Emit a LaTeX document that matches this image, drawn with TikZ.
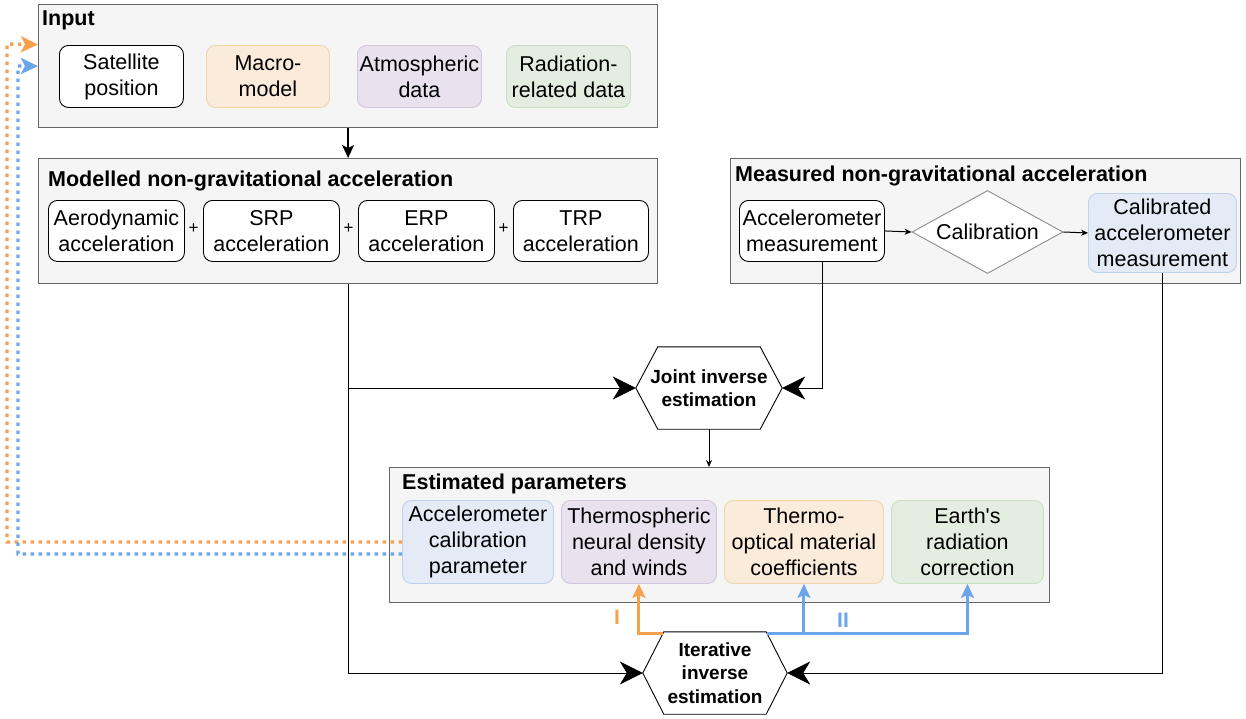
\documentclass[tikz,border=0pt]{standalone}
\usepackage{fontspec}
\setmainfont{Liberation Sans}[Ligatures=TeXOff]
\usetikzlibrary{arrows.meta,calc,shapes.geometric}
\definecolor{grayfill}{HTML}{F5F5F5}
\definecolor{graydraw}{HTML}{666666}
\definecolor{orfill}{HTML}{FAEBDB}
\definecolor{ordraw}{HTML}{EDD7AA}
\definecolor{pufill}{HTML}{E9E2EE}
\definecolor{pudraw}{HTML}{D3C3DD}
\definecolor{grfill}{HTML}{E3EEE0}
\definecolor{grdraw}{HTML}{C7DFC0}
\definecolor{blfill}{HTML}{E4EBF6}
\definecolor{bldraw}{HTML}{BDD0EC}
\definecolor{diadraw}{HTML}{8C8C8C}
\definecolor{myorange}{HTML}{F7A14C}
\definecolor{myblue}{HTML}{6AA4E9}
\begin{document}
\begin{tikzpicture}[x=1pt,y=-1pt,
  container/.style={draw=graydraw, fill=grayfill, line width=1.2pt, anchor=north west, inner sep=0pt},
  title/.style={anchor=west, font=\bfseries\fontsize{21.5}{26}\selectfont, inner sep=0pt},
  item/.style={draw, rounded corners=9pt, anchor=north west, align=center, inner sep=0pt, font=\fontsize{21.5}{26}\selectfont, line width=0.9pt, fill=white},
  orbox/.style={item, fill=orfill, draw=ordraw},
  pubox/.style={item, fill=pufill, draw=pudraw},
  grbox/.style={item, fill=grfill, draw=grdraw},
  blbox/.style={item, fill=blfill, draw=bldraw},
  hexnode/.style={inner sep=0pt, align=center, font=\bfseries\fontsize{19}{23.5}\selectfont},
  hexline/.style={draw=black, line width=0.9pt, fill=none},
  plus/.style={font=\fontsize{17}{17}\selectfont, inner sep=0pt},
  conn/.style={draw=black, line width=1pt},
  bigtip/.style={conn, -{Stealth[length=23pt,width=23pt,inset=7pt]}},
  smalltip/.style={conn, -{Stealth[length=7pt,width=6pt]}},
  midtip/.style={conn, line width=1.3pt, -{Stealth[length=13pt,width=12pt,inset=3pt]}},
  orline/.style={draw=myorange, line width=3pt, -{Stealth[length=14pt,width=13pt,inset=3pt]}},
  blline/.style={draw=myblue, line width=3pt},
  bltip/.style={blline, -{Stealth[length=14pt,width=13pt,inset=3pt]}},
  ordot/.style={draw=myorange, line width=3.4pt, dash pattern=on 3.4pt off 4.6pt, -{Stealth[length=17pt,width=16pt,inset=4pt]}},
  bldot/.style={draw=myblue, line width=3.4pt, dash pattern=on 3.4pt off 4.6pt, -{Stealth[length=17pt,width=16pt,inset=4pt]}},
  lab/.style={font=\bfseries\fontsize{21}{21}\selectfont, inner sep=0pt}
]
\useasboundingbox (0,0) rectangle (1246,718);

% Input
\node[container, minimum width=619, minimum height=123] (input) at (38,4) {};
\node[title] (inputtitle) at (42,20) {Input};
\node[item, minimum width=124, minimum height=62] (sat) at (59,45) {Satellite\\position};
\node[orbox, minimum width=123, minimum height=62] (macro) at (206,45) {Macro-\\model};
\node[pubox, minimum width=124, minimum height=62] (atmo) at (357,45) {Atmospheric\\data};
\node[grbox, minimum width=124, minimum height=62] (rad) at (506,45) {Radiation-\\related data};

% Modelled
\node[container, minimum width=619, minimum height=125] (model) at (38,158) {};
\node[title] (modeltitle) at (48,181) {Modelled non-gravitational acceleration};
\node[item, minimum width=136, minimum height=61] (aero) at (48,200) {Aerodynamic\\acceleration};
\node[item, minimum width=136, minimum height=61] (srp) at (203,200) {SRP\\acceleration};
\node[item, minimum width=136, minimum height=61] (erp) at (358,200) {ERP\\acceleration};
\node[item, minimum width=135, minimum height=61] (trp) at (513,200) {TRP\\acceleration};
\node[plus] (p1) at (193.5,229) {+};
\node[plus] (p2) at (348.5,229) {+};
\node[plus] (p3) at (503.5,229) {+};

% Measured
\node[container, minimum width=510, minimum height=125] (meas) at (730,158) {};
\node[title] (meastitle) at (735,176) {Measured non-gravitational acceleration};
\node[item, minimum width=145, minimum height=61] (accm) at (739,200) {Accelerometer\\measurement};
\node[diamond, draw=diadraw, fill=white, line width=0.9pt, inner sep=0pt, aspect=1.8, minimum width=151, minimum height=83, font=\fontsize{21.5}{26}\selectfont] (calib) at (987.5,232) {Calibration};
\node[blbox, minimum width=148, minimum height=79] (calm) at (1088,193) {Calibrated\\accelerometer\\measurement};

% Joint inverse estimation
\node[hexnode, minimum width=146, minimum height=82] (joint) at (709,388) {Joint inverse\\estimation};
\draw[hexline] (joint.west) -- ([xshift=22]joint.north west) -- ([xshift=-22]joint.north east) -- (joint.east) -- ([xshift=-22]joint.south east) -- ([xshift=22]joint.south west) -- cycle;

% Estimated
\node[container, minimum width=660, minimum height=135] (est) at (389,467) {};
\node[title] (esttitle) at (402,484) {Estimated parameters};
\node[blbox, minimum width=151, minimum height=83] (accpar) at (402,500) {Accelerometer\\calibration\\parameter};
\node[pubox, minimum width=155, minimum height=83] (thermo) at (561,500) {Thermospheric\\neural density\\and winds};
\node[orbox, minimum width=159, minimum height=83] (optical) at (724,500) {Thermo-\\optical material\\coefficients};
\node[grbox, minimum width=152, minimum height=83] (earth) at (891,500) {Earth's\\radiation\\correction};

% Iterative inverse estimation
\node[hexnode, minimum width=144, minimum height=82] (iter) at (715,673) {Iterative\\inverse\\estimation};
\draw[hexline] (iter.west) -- ([xshift=21]iter.north west) -- ([xshift=-21]iter.north east) -- (iter.east) -- ([xshift=-21]iter.south east) -- ([xshift=21]iter.south west) -- cycle;

% connectors
\draw[midtip] (input.south) -- (model.north);
\draw[smalltip] (accm.east) -- (calib.west);
\draw[smalltip] (calib.east) -- (calm.west);
\draw[bigtip] (model.south) |- (iter.west);
\draw[bigtip] (model.south |- joint.west) -- (joint.west);
\draw[bigtip] ([xshift=11]accm.south) |- (joint.east);
\draw[bigtip] (calm.south) |- (iter.east);
\draw[smalltip] (joint.south) -- (joint.south |- est.north);

% coloured feedback
\coordinate (itop) at ([yshift=-2]iter.north);
\draw[orline] ([xshift=-52]itop) -| (thermo.south);
\draw[blline] ([xshift=52]itop) -| ([yshift=-14]earth.south);
\draw[bltip] ([yshift=-14]earth.south) -- (earth.south);
\draw[bltip] (optical.south |- itop) -- (optical.south);
\node[lab, text=myorange] (labI) at (617,617) {I};
\node[lab, text=myblue] (labII) at (843,620) {II};

% dotted loops
\coordinate (oc) at (7,44);
\coordinate (bc) at (18,66);
\draw[ordot] (accpar.west) -| (oc) -- ([yshift=21.5]input.west);
\draw[bldot] ([yshift=-12]accpar.west) -| (bc) -- (input.west);
\end{tikzpicture}
\end{document}
